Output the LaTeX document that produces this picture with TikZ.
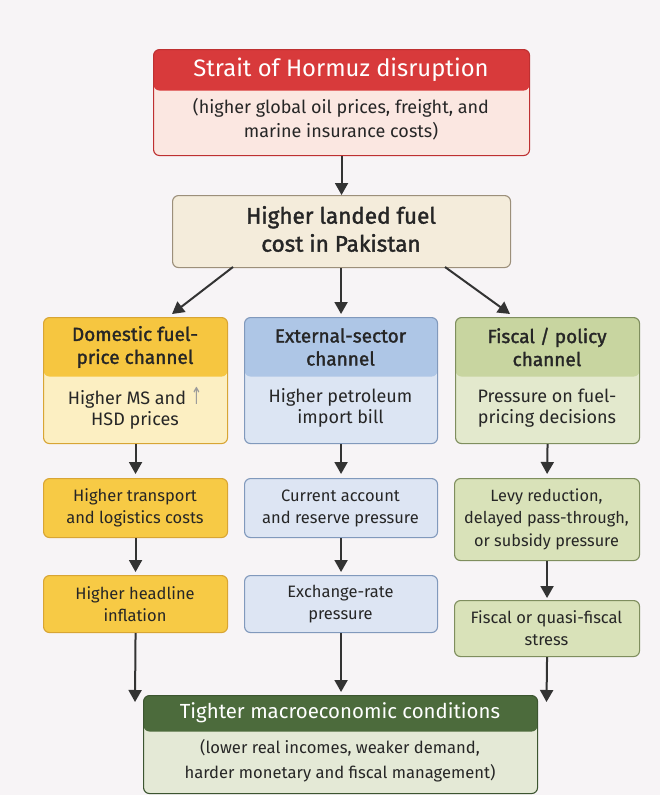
\documentclass[tikz,border=0pt]{standalone}
\usepackage{fontspec}
\setmainfont{Fira Sans}
\newfontfamily\semibf{Fira Sans}[FakeBold=1.6]
\newcommand{\semib}{\semibf}
\newfontfamily\symf{DejaVu Sans}
\usetikzlibrary{arrows.meta,calc}
\definecolor{bg}{HTML}{F7F4F6}
\definecolor{rhead}{HTML}{D83A3B}
\definecolor{rbody}{HTML}{FBE7E1}
\definecolor{rborder}{HTML}{BE3031}
\definecolor{tbody}{HTML}{F4ECDB}
\definecolor{tborder}{HTML}{9C8F7A}
\definecolor{yhead}{HTML}{F6C640}
\definecolor{ybody}{HTML}{FCEFC2}
\definecolor{yborder}{HTML}{D8A534}
\definecolor{yrow}{HTML}{F7CA45}
\definecolor{bhead}{HTML}{AEC6E6}
\definecolor{bbody}{HTML}{DCE5F3}
\definecolor{bborder}{HTML}{8199BC}
\definecolor{brow}{HTML}{DDE5F3}
\definecolor{ghead}{HTML}{C8D5A0}
\definecolor{gbody}{HTML}{E3E9CD}
\definecolor{gborder}{HTML}{7F8E5E}
\definecolor{grow}{HTML}{D9E2B9}
\definecolor{dhead}{HTML}{4C6B3C}
\definecolor{dbody}{HTML}{E4E9D6}
\definecolor{dborder}{HTML}{3C5530}
\definecolor{ink}{HTML}{262626}
\definecolor{arrc}{HTML}{333333}
\definecolor{upgray}{HTML}{9A9A9A}
\tikzset{
  bx/.style={draw, rounded corners=6pt, line width=1.1pt, inner sep=0pt, anchor=north west},
  hdr/.style 2 args={path picture={\fill[#1] (path picture bounding box.north west) rectangle ([yshift=-#2]path picture bounding box.north east);}},
  txt/.style={align=center, text=ink, inner sep=0pt},
  arr/.style={draw=arrc, line width=2pt, -{Triangle[width=13pt,length=12pt]}},
}
\begin{document}
\begin{tikzpicture}[x=1pt,y=-1pt]
\fill[bg] (0,0) rectangle (660,795);
\useasboundingbox (0,0) rectangle (660,795);

% top box
\node[bx, fill=rbody, draw=rborder, minimum width=376pt, minimum height=106pt, hdr={rhead}{41pt}] (top) at (153,49) {};
\node[txt, text=white, font=\fontsize{23.8}{26}\selectfont] (topH) at (341,70) {Strait of Hormuz disruption};
\node[txt, font=\fontsize{18}{24}\selectfont] (topB) at (341,119) {(higher global oil prices, freight, and\\marine insurance costs)};

% second box
\node[bx, fill=tbody, draw=tborder, minimum width=338pt, minimum height=72pt] (land) at (172,195) {};
\node[txt, font=\semib\fontsize{22.5}{28}\selectfont] (landT) at (341,229) {Higher landed fuel\\cost in Pakistan};

% channel boxes
\node[bx, fill=ybody, draw=yborder, minimum width=184pt, minimum height=126pt, hdr={yhead}{59pt}] (chL) at (43,317) {};
\node[txt, font=\semib\fontsize{19}{23}\selectfont] (chLH) at (135,347) {Domestic fuel-\\price channel};
\node[txt, font=\fontsize{18}{21}\selectfont] (chLB) at (135,408) {Higher MS and {\symf\color{upgray}\scalebox{0.75}[1.3]{↑}}\\HSD prices};

\node[bx, fill=bbody, draw=bborder, minimum width=193pt, minimum height=126pt, hdr={bhead}{59pt}] (chM) at (244,317) {};
\node[txt, font=\semib\fontsize{19}{23}\selectfont] (chMH) at (340.5,347) {External-sector\\channel};
\node[txt, font=\fontsize{18}{21}\selectfont] (chMB) at (340.5,408) {Higher petroleum\\import bill};

\node[bx, fill=gbody, draw=gborder, minimum width=184pt, minimum height=126pt, hdr={ghead}{59pt}] (chR) at (455,317) {};
\node[txt, font=\semib\fontsize{19}{23}\selectfont] (chRH) at (547,347) {Fiscal / policy\\channel};
\node[txt, font=\fontsize{18}{21}\selectfont] (chRB) at (547,408) {Pressure on fuel-\\pricing decisions};

% row 2
\node[bx, fill=yrow, draw=yborder, minimum width=184pt, minimum height=59pt] (l2) at (43,478) {};
\node[txt, font=\fontsize{16.5}{22}\selectfont] (l2T) at (135,508) {Higher transport\\and logistics costs};
\node[bx, fill=brow, draw=bborder, minimum width=193pt, minimum height=59pt] (m2) at (244,478) {};
\node[txt, font=\fontsize{16.5}{22}\selectfont] (m2T) at (340.5,508) {Current account\\and reserve pressure};
\node[bx, fill=grow, draw=gborder, minimum width=185pt, minimum height=82pt] (r2) at (454,478) {};
\node[txt, font=\fontsize{16.3}{22.5}\selectfont] (r2T) at (546.5,519) {Levy reduction,\\delayed pass-through,\\or subsidy pressure};

% row 3
\node[bx, fill=yrow, draw=yborder, minimum width=184pt, minimum height=57pt] (l3) at (43,575) {};
\node[txt, font=\fontsize{16.5}{22}\selectfont] (l3T) at (135,604) {Higher headline\\inflation};
\node[bx, fill=brow, draw=bborder, minimum width=193pt, minimum height=57pt] (m3) at (244,575) {};
\node[txt, font=\fontsize{16.5}{22}\selectfont] (m3T) at (340.5,604) {Exchange-rate\\pressure};
\node[bx, fill=grow, draw=gborder, minimum width=185pt, minimum height=56pt] (r3) at (454,600) {};
\node[txt, font=\fontsize{16.5}{22}\selectfont] (r3T) at (546.5,628) {Fiscal or quasi-fiscal\\stress};

% bottom box
\node[bx, fill=dbody, draw=dborder, minimum width=394pt, minimum height=98pt, hdr={dhead}{36pt}] (bot) at (143,695) {};
\node[txt, text=white, font=\fontsize{20.4}{24}\selectfont] (botH) at (340,713) {Tighter macroeconomic conditions};
\node[txt, font=\fontsize{16.6}{25}\selectfont] (botB) at (340,761) {(lower real incomes, weaker demand,\\harder monetary and fiscal management)};

% connectors
\draw[arr] (top.south) -- (land.north);
\coordinate (dL0) at (233,267);
\coordinate (dL1) at (172,314);
\coordinate (dR0) at (445,267);
\coordinate (dR1) at (510,314);
\draw[arr] (dL0) -- (dL1);
\draw[arr, shorten >=3pt] (land.south -| chM.north) -- (chM.north);
\draw[arr] (dR0) -- (dR1);

\draw[arr, shorten >=4pt] (chL.south) -- (l2.north);
\draw[arr, shorten >=4pt] (chM.south) -- (m2.north);
\draw[arr, shorten >=4pt] (chR.south) -- (r2.north);
\draw[arr, shorten >=3pt] (l2.south) -- (l3.north);
\draw[arr, shorten >=3pt] (m2.south) -- (m3.north);
\draw[arr, shorten >=2pt] (r2.south) -- (r3.north);

\coordinate (eL) at (135,702);
\coordinate (eR) at (546.5,702);
\draw[arr] (l3.south) -- (eL);
\draw[arr, shorten >=3pt] (m3.south) -- (m3.south |- bot.north);
\draw[arr] (r3.south) -- (eR);
\end{tikzpicture}
\end{document}
